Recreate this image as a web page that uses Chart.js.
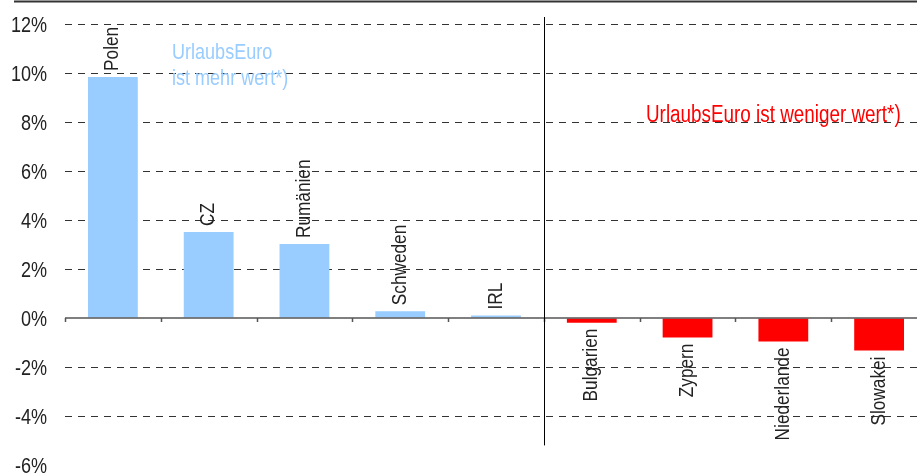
<!DOCTYPE html>
<html lang="de">
<head>
  <meta charset="UTF-8">
  <title>UrlaubsEuro</title>
  <script src="https://cdn.jsdelivr.net/npm/chart.js"></script>
  <style>
    body { margin: 0; overflow: hidden; background: #fff; }
    .box { position: relative; width: 930px; height: 473px; }
  </style>
</head>
<body>
  <div class="box">
    <canvas id="kaufkraftChart"></canvas>
  </div>

  <script>
    // Daten
    const laender = ['Polen', 'CZ', 'Rumänien', 'Schweden', 'IRL', 'Bulgarien', 'Zypern', 'Niederlande', 'Slowakei'];
    const werte = [9.84, 3.51, 3.02, 0.28, 0.1, -0.19, -0.8, -0.96, -1.33];
    const yMin = -6;
    const yMax = 12;
    const yStep = 2;

    // keine schmale Schrift installiert -> Liberation Sans horizontal gestaucht
    const schrift = "'Liberation Sans', Arial, sans-serif";
    const stauchung = 0.82;
    const blau = '#99ccff';
    const rot = '#ff0000';

    function schmalText(ctx, text, x, y, winkel) {
      ctx.save();
      ctx.translate(x, y);
      if (winkel) ctx.rotate(winkel);
      ctx.scale(stauchung, 1);
      ctx.fillText(text, 0, 0);
      ctx.restore();
    }

    const extras = {
      id: 'extras',
      afterDraw(chart) {
        const ctx = chart.ctx;
        const x = chart.scales.x;
        const y = chart.scales.y;
        const area = chart.chartArea;
        const y0 = y.getPixelForValue(0);
        ctx.save();

        // Linie oben
        ctx.strokeStyle = '#333';
        ctx.lineWidth = 2;
        ctx.beginPath();
        ctx.moveTo(14, 1.5);
        ctx.lineTo(chart.width, 1.5);
        ctx.stroke();

        // Nulllinie mit Strichen
        ctx.strokeStyle = '#555';
        ctx.lineWidth = 1.5;
        ctx.beginPath();
        ctx.moveTo(area.left, y0);
        ctx.lineTo(area.right, y0);
        for (let i = 0; i <= laender.length; i++) {
          const px = Math.round(x.getPixelForValue(i - 0.5)) + 0.5;
          ctx.moveTo(px, y0);
          ctx.lineTo(px, y0 + 4);
        }
        ctx.stroke();

        // Trennlinie
        const xt = Math.round(x.getPixelForValue(4.5)) + 0.5;
        ctx.strokeStyle = '#000';
        ctx.lineWidth = 1;
        ctx.beginPath();
        ctx.moveTo(xt, 17);
        ctx.lineTo(xt, y.getPixelForValue(-5.2));
        ctx.stroke();

        // y-Beschriftung
        ctx.fillStyle = '#222';
        ctx.font = '22px ' + schrift;
        ctx.textAlign = 'right';
        ctx.textBaseline = 'alphabetic';
        y.ticks.forEach(t => {
          schmalText(ctx, t.value + '%', 47, y.getPixelForValue(t.value) + 8);
        });

        // Laendernamen
        const meta = chart.getDatasetMeta(0);
        ctx.font = '21px ' + schrift;
        meta.data.forEach((bar, i) => {
          if (werte[i] >= 0) {
            ctx.textAlign = 'left';
            schmalText(ctx, laender[i], bar.x + 5.5, bar.y - 6, -Math.PI / 2);
          } else {
            ctx.textAlign = 'right';
            schmalText(ctx, laender[i], bar.x + 5.5, bar.y + 6, -Math.PI / 2);
          }
        });

        // Hinweise
        ctx.textAlign = 'left';
        ctx.font = '22px ' + schrift;
        ctx.fillStyle = blau;
        schmalText(ctx, 'UrlaubsEuro', 172, 59);
        schmalText(ctx, 'ist mehr wert*)', 172, 85);
        ctx.font = '23px ' + schrift;
        ctx.fillStyle = rot;
        schmalText(ctx, 'UrlaubsEuro ist weniger wert*)', 646, 122);

        ctx.restore();
      }
    };

    new Chart(document.getElementById('kaufkraftChart'), {
      type: 'bar',
      data: {
        labels: laender,
        datasets: [{
          data: werte,
          backgroundColor: werte.map(v => v >= 0 ? blau : rot),
          barPercentage: 0.52,
          categoryPercentage: 1
        }]
      },
      options: {
        responsive: true,
        maintainAspectRatio: false,
        animation: false,
        layout: { padding: { top: 24, right: 3, bottom: 8, left: 0 } },
        plugins: {
          legend: { display: false },
          tooltip: { enabled: false }
        },
        scales: {
          x: { display: false },
          y: {
            min: yMin,
            max: yMax,
            afterFit: s => {
              s.width = 65;
              s.paddingTop = 0;
              s.paddingBottom = 0;
            },
            ticks: { display: false, stepSize: yStep },
            grid: {
              drawTicks: false,
              lineWidth: 1,
              color: c => (c.tick && (c.tick.value === 0 || c.tick.value === yMin)) ? 'rgba(0,0,0,0)' : '#333'
            },
            border: { display: false, dash: [7, 6] }
          }
        }
      },
      plugins: [extras]
    });
  </script>
</body>
</html>
